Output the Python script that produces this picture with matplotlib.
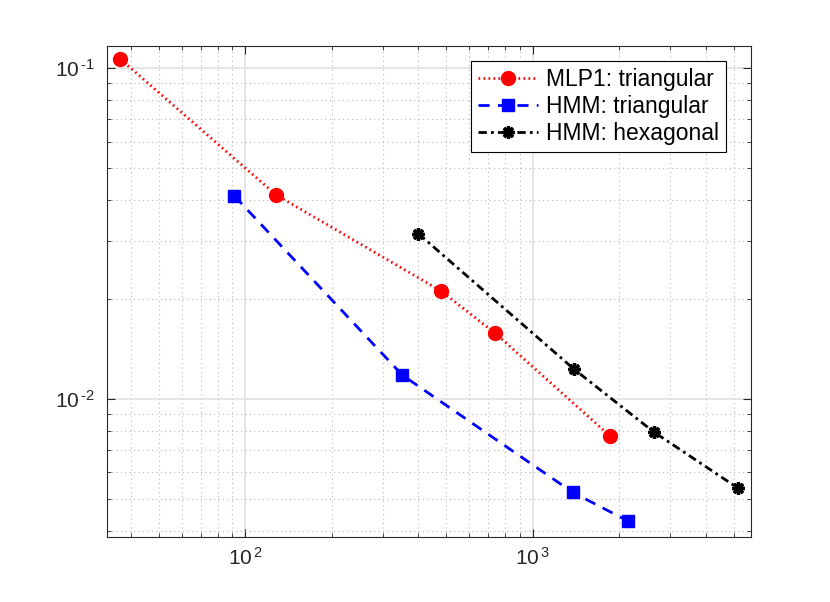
import matplotlib
matplotlib.use("Agg")
import matplotlib.pyplot as plt
import numpy as np
from matplotlib.ticker import LogLocator, NullFormatter, FuncFormatter

plt.rcParams['font.family'] = ['Liberation Sans', 'DejaVu Sans']
plt.rcParams['mathtext.fontset'] = 'custom'
plt.rcParams['mathtext.rm'] = 'Liberation Sans'
plt.rcParams['mathtext.it'] = 'Liberation Sans:italic'

# valeurs
mlp1_tri_x = [36.7, 128, 480, 740, 1856]
mlp1_tri_y = [0.1067, 0.0414, 0.0212, 0.0158, 0.00773]

hmm_tri_x = [91.6, 352, 1377, 2138]
hmm_tri_y = [0.0411, 0.0118, 0.00522, 0.00428]

hmm_hex_x = [400, 1392, 2634, 5184]
hmm_hex_y = [0.0316, 0.0123, 0.00795, 0.00537]

labels = ["MLP1: triangular", "HMM: triangular", "HMM: hexagonal"]

axcol = (0.15, 0.15, 0.15)


def pow10(v, pos):
    # exposant avec un tiret court, comme MATLAB
    e = int(round(np.log10(v)))
    return r'$\mathregular{10^{\,\text{%d}}}$' % e


fig = plt.figure(figsize=(8.3, 6.02), dpi=100)
ax = fig.add_axes([0.1293, 0.1085, 0.7752, 0.8158])

ax.loglog(mlp1_tri_x, mlp1_tri_y, color='red', linestyle=(0, (0.6, 1.2)),
          linewidth=2, marker='o', markersize=10, label=labels[0])
ax.loglog(hmm_tri_x, hmm_tri_y, color='blue', linestyle=(0, (4, 3)),
          linewidth=2, marker='s', markersize=8.5, label=labels[1])
ax.loglog(hmm_hex_x, hmm_hex_y, color='black', linestyle=(0, (3, 1.5, 1, 1.5)),
          linewidth=2, marker=(8, 2, 0), markersize=9, markeredgewidth=2.4,
          label=labels[2])

ax.set_xlim(33.1, 5727)
ax.set_ylim(0.003835, 0.1171)

ax.xaxis.set_major_locator(LogLocator(base=10, numticks=10))
ax.yaxis.set_major_locator(LogLocator(base=10, numticks=10))
ax.xaxis.set_minor_locator(LogLocator(base=10, subs=range(2, 10), numticks=20))
ax.yaxis.set_minor_locator(LogLocator(base=10, subs=range(2, 10), numticks=20))
ax.xaxis.set_major_formatter(FuncFormatter(pow10))
ax.yaxis.set_major_formatter(FuncFormatter(pow10))
ax.xaxis.set_minor_formatter(NullFormatter())
ax.yaxis.set_minor_formatter(NullFormatter())

# grille style MATLAB
ax.grid(True, which='major', color=(0.88, 0.88, 0.88), linewidth=1.2, linestyle='-')
ax.grid(True, which='minor', color=(0.72, 0.72, 0.72), linewidth=0.8, linestyle=(0, (1, 3)))
ax.set_axisbelow(True)

ax.tick_params(which='both', direction='in', top=True, right=True,
               color=axcol, labelcolor=axcol, labelsize=15)
ax.tick_params(which='major', length=6, width=0.8)
ax.tick_params(which='minor', length=3, width=0.6)
ax.tick_params(axis='x', which='major', pad=7)
ax.tick_params(axis='y', which='major', pad=9)
for s in ax.spines.values():
    s.set_color(axcol)
    s.set_linewidth(0.8)

leg = ax.legend(loc='upper left', bbox_to_anchor=(0.566, 0.9686),
                fontsize=16.5, fancybox=False, framealpha=1,
                edgecolor='black', borderpad=0.3, labelspacing=0.18,
                handlelength=2.6, handletextpad=0.35, borderaxespad=0)
leg.get_frame().set_linewidth(0.8)

fig.savefig("out.png", dpi=100)
